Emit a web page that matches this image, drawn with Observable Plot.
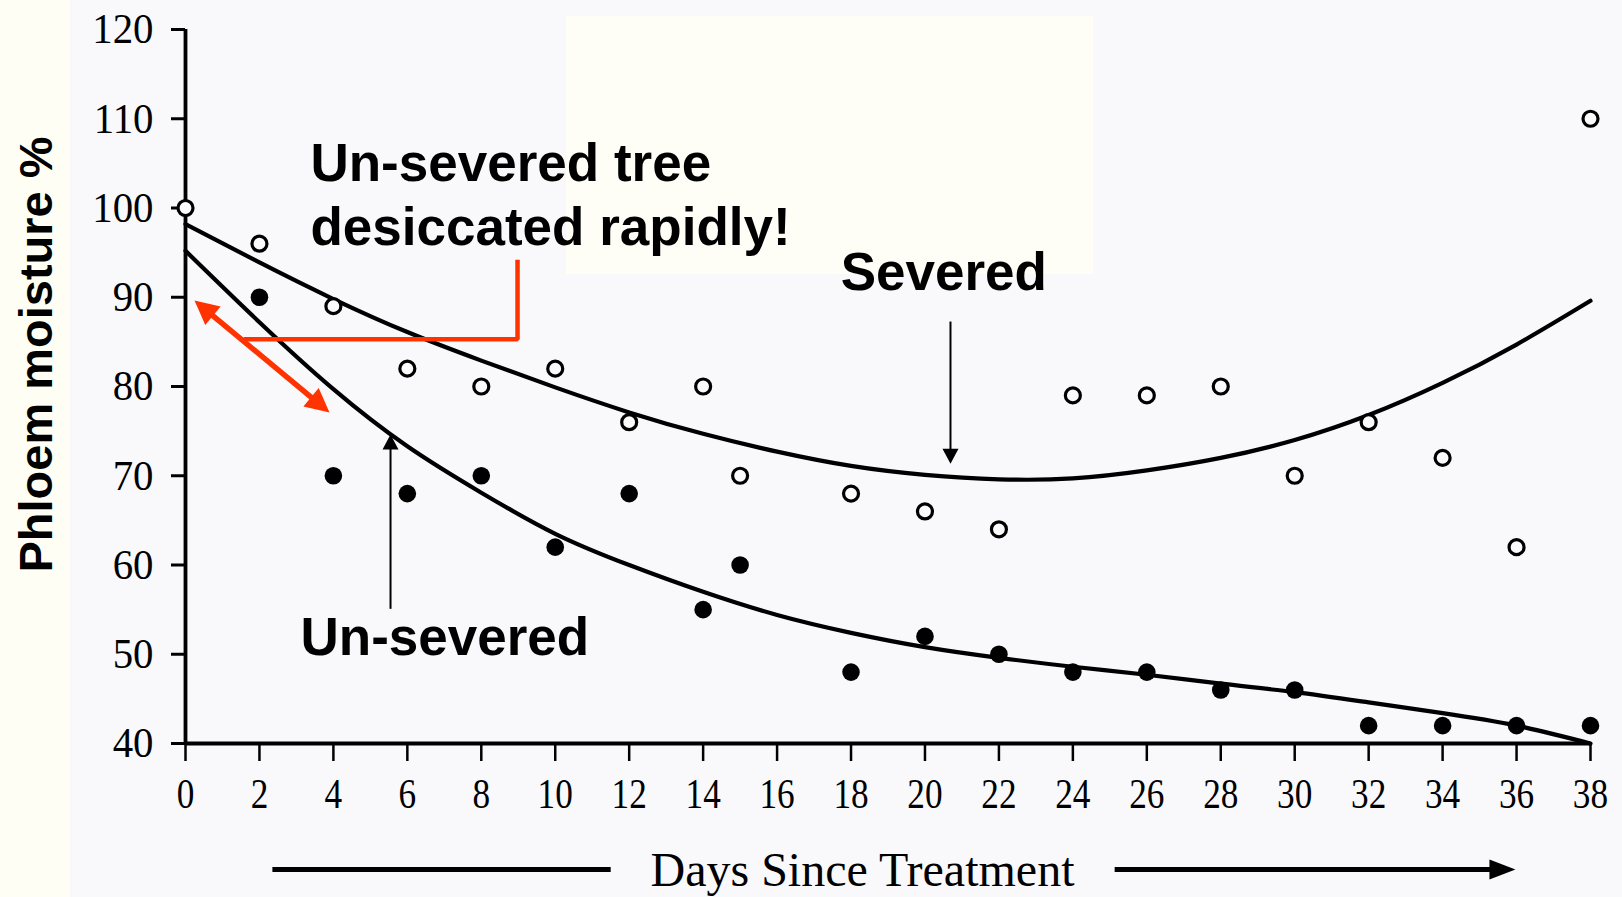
<!DOCTYPE html>
<html>
<head>
<meta charset="utf-8">
<script src="https://cdn.jsdelivr.net/npm/d3@7"></script>
<script src="https://cdn.jsdelivr.net/npm/@observablehq/plot@0.6"></script>
<style>
html, body { margin: 0; padding: 0; background: #fefef5; overflow: hidden; }
#wrap { position: relative; width: 1622px; height: 897px; background: #fefef5; }
#paper { position: absolute; left: 70px; top: 0; width: 1552px; height: 897px; background: #f9f9fb; }
#box { position: absolute; left: 566px; top: 16px; width: 527px; height: 258px; background: #fefef6; }
#chart { position: absolute; left: 0; top: 0; }
</style>
</head>
<body>
<div id="wrap"><div id="paper"></div><div id="box"></div><div id="chart"></div></div>
<script>
// ---- Data ----
const severedDays = [0, 2, 4, 6, 8, 10, 12, 14, 15, 18, 20, 22, 24, 26, 28, 30, 32, 34, 36, 38];
const severedMoisture = [100, 96, 89, 82, 80, 82, 76, 80, 70, 68, 66, 64, 79, 79, 80, 70, 76, 72, 62, 110];

const unseveredDays = [2, 4, 6, 8, 10, 12, 14, 15, 18, 20, 22, 24, 26, 28, 30, 32, 34, 36, 38];
const unseveredMoisture = [90, 70, 68, 70, 62, 68, 55, 60, 48, 52, 50, 48, 48, 46, 46, 42, 42, 42, 42];

// fitted curves, every 2 days
const fitDays = [0, 2, 4, 6, 8, 10, 12, 14, 16, 18, 20, 22, 24, 26, 28, 30, 32, 34, 36, 38];
const severedFit = [98.2, 93.9, 89.8, 86.1, 82.9, 79.9, 77.1, 74.7, 72.7, 71.1, 70.1, 69.6, 69.7, 70.6, 72.0, 74.0, 76.8, 80.4, 84.7, 89.6];
const unseveredFit = [95.2, 87.2, 79.7, 73.3, 68.1, 63.5, 60.0, 57.0, 54.4, 52.4, 50.8, 49.6, 48.6, 47.7, 46.7, 45.75, 44.6, 43.4, 42.0, 40.0];

const xTicks = [0, 2, 4, 6, 8, 10, 12, 14, 16, 18, 20, 22, 24, 26, 28, 30, 32, 34, 36, 38];
const yTicks = [40, 50, 60, 70, 80, 90, 100, 110, 120];

// ---- Annotations (data coordinates) ----
const blackLabels = [
  {text: "Un-severed tree", x: 3.38, y: 102.97},
  {text: "desiccated rapidly!", x: 3.38, y: 95.91},
  {text: "Severed", x: 17.72, y: 90.76},
  {text: "Un-severed", x: 3.11, y: 49.97}
];
const yTitle = [{text: "Phloem moisture %", x: -4.03, y: 83.59}];
const xTitle = [{text: "Days Since Treatment", x: 18.31, y: 24.0}];
const blackShafts = [
  {x1: 20.69, y1: 87.28, x2: 20.69, y2: 72.6},
  {x1: 5.545, y1: 55.09, x2: 5.545, y2: 73.3}
];
const blackHeads = [
  {x: 20.69, y: 71.34, dir: "down"},
  {x: 5.545, y: 74.62, dir: "up"}
];
const bottomLines = [
  {x1: 2.35, y1: 25.88, x2: 11.5, y2: 25.88},
  {x1: 25.13, y1: 25.88, x2: 35.4, y2: 25.88}
];
const bottomHead = [{x: 35.97, y: 25.88}];
const redBracket = [{x: 8.98, y: 94.2}, {x: 8.98, y: 85.3}, {x: 1.57, y: 85.3}];
const redShaft = [{x1: 0.46, y1: 88.9, x2: 3.68, y2: 77.83}];
const redHeads = [
  {x: 0.243, y: 89.64, dir: "ul"},
  {x: 3.895, y: 77.09, dir: "dr"}
];

// custom filled triangle symbol: tip at the point, pointing along angle (screen coords)
function triangle(angleDeg, len, halfW) {
  const a = angleDeg * Math.PI / 180, ca = Math.cos(a), sa = Math.sin(a);
  const pts = [[0, 0], [-len, -halfW], [-len, halfW]].map(([u, v]) => [u * ca - v * sa, u * sa + v * ca]);
  return {
    draw(ctx) {
      ctx.moveTo(pts[0][0], pts[0][1]);
      ctx.lineTo(pts[1][0], pts[1][1]);
      ctx.lineTo(pts[2][0], pts[2][1]);
      ctx.closePath();
    }
  };
}
const redAngle = Math.atan2(112, 135) * 180 / Math.PI;
const symbols = {
  down: triangle(90, 15, 8),
  up: triangle(-90, 15, 8),
  right: triangle(0, 26, 10),
  dr: triangle(redAngle, 24, 12),
  ul: triangle(redAngle + 180, 24, 12)
};

const severedObs = severedDays.map((d, i) => ({day: d, value: severedMoisture[i]}));
const unseveredObs = unseveredDays.map((d, i) => ({day: d, value: unseveredMoisture[i]}));
const severedCurve = fitDays.map((d, i) => ({day: d, value: severedFit[i]}));
const unseveredCurve = fitDays.map((d, i) => ({day: d, value: unseveredFit[i]}));

const RED = "#ff3300";

const chart = Plot.plot({
  width: 1622,
  height: 897,
  marginLeft: 185,
  marginRight: 32,
  marginTop: 29,
  marginBottom: 154,
  x: {domain: [0, 38]},
  y: {domain: [40, 120]},
  style: {background: "transparent", overflow: "visible", fontFamily: "Liberation Serif", color: "#000"},
  marks: [
    Plot.axisY(yTicks, {tickSize: 14, tickPadding: 18, fontSize: 43, strokeWidth: 3, label: null, fontFamily: "Liberation Serif"}),
    Plot.axisX(xTicks, {tickSize: 18, tickPadding: 16, fontSize: 43, strokeWidth: 2.5, label: null, fontFamily: "Liberation Serif"}),
    Plot.ruleX([0], {y1: 40, y2: 120, stroke: "#000", strokeWidth: 3.8}),
    Plot.ruleY([40], {x1: 0, x2: 38, stroke: "#000", strokeWidth: 4.2}),
    Plot.line(severedCurve, {x: "day", y: "value", curve: "natural", stroke: "#000", strokeWidth: 4.2}),
    Plot.line(unseveredCurve, {x: "day", y: "value", curve: "natural", stroke: "#000", strokeWidth: 4.2}),
    Plot.dot(severedObs, {x: "day", y: "value", r: 7.5, fill: "#fbfbfb", stroke: "#000", strokeWidth: 3.2}),
    Plot.dot(unseveredObs, {x: "day", y: "value", r: 8.8, fill: "#000", stroke: "none"}),
    // black annotation arrows
    Plot.link(blackShafts, {x1: "x1", y1: "y1", x2: "x2", y2: "y2", stroke: "#000", strokeWidth: 2}),
    Plot.dot(blackHeads, {x: "x", y: "y", r: 5, symbol: d => symbols[d.dir], fill: "#000", stroke: "none"}),
    // red annotation
    Plot.line(redBracket, {x: "x", y: "y", stroke: RED, strokeWidth: 4.5, strokeLinejoin: "miter", strokeLinecap: "butt"}),
    Plot.link(redShaft, {x1: "x1", y1: "y1", x2: "x2", y2: "y2", stroke: RED, strokeWidth: 5.5}),
    Plot.dot(redHeads, {x: "x", y: "y", r: 5, symbol: d => symbols[d.dir], fill: RED, stroke: "none"}),
    // labels
    Plot.text(blackLabels, {x: "x", y: "y", text: "text", textAnchor: "start", lineAnchor: "bottom", fontSize: 53, fontWeight: "bold", fontFamily: "Liberation Sans", fill: "#000"}),
    Plot.text(yTitle, {x: "x", y: "y", text: "text", rotate: -90, textAnchor: "middle", lineAnchor: "middle", fontSize: 47, fontWeight: "bold", fontFamily: "Liberation Sans", fill: "#000"}),
    Plot.text(xTitle, {x: "x", y: "y", text: "text", textAnchor: "middle", lineAnchor: "bottom", fontSize: 48, fontFamily: "Liberation Serif", fill: "#000"}),
    Plot.link(bottomLines, {x1: "x1", y1: "y1", x2: "x2", y2: "y2", stroke: "#000", strokeWidth: 5}),
    Plot.dot(bottomHead, {x: "x", y: "y", r: 5, symbol: () => symbols.right, fill: "#000", stroke: "none"})
  ]
});

document.getElementById("chart").appendChild(chart);

// condense the serif tick labels like the original typeface
function condense(t, s) {
  const tr = t.getAttribute("transform");
  if (tr && tr.includes("translate")) {
    t.setAttribute("transform", tr + ` scale(${s},1)`);
  } else {
    const x = +t.getAttribute("x") || 0, y = +t.getAttribute("y") || 0;
    t.removeAttribute("x"); t.removeAttribute("y");
    t.setAttribute("transform", `translate(${x},${y}) scale(${s},1)` + (tr ? " " + tr : ""));
  }
}
const svg = chart.tagName.toLowerCase() === "svg" ? chart : chart.querySelector("svg");
svg.querySelectorAll('g[aria-label="x-axis tick label"] text').forEach(t => condense(t, 0.82));
svg.querySelectorAll('g[aria-label="y-axis tick label"] text').forEach(t => condense(t, 0.95));
</script>
</body>
</html>
